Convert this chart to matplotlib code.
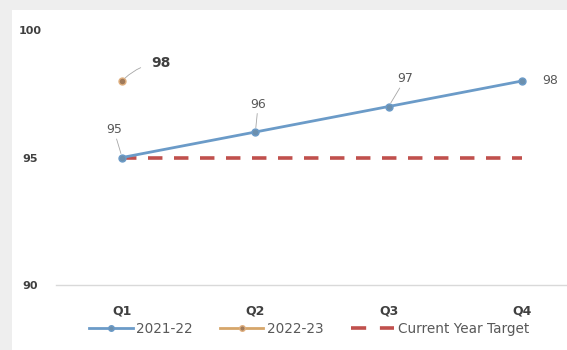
import matplotlib
matplotlib.use("Agg")
import matplotlib.pyplot as plt
from matplotlib.lines import Line2D
from matplotlib.patches import Rectangle

categories = ["Q1", "Q2", "Q3", "Q4"]
series_2122 = [95, 96, 97, 98]
series_2223 = [98]
target = [95, 95, 95, 95]
yticks = [90, 95, 100]

fig = plt.figure(figsize=(5.67, 3.5), dpi=100)
fig.patch.set_facecolor("#eeeeee")
bg = Rectangle((12/567, 0), 1, 1 - 10/350, transform=fig.transFigure,
               facecolor="white", edgecolor="none", zorder=-10)
fig.add_artist(bg)

ax = fig.add_axes([55.5/567, (350-285)/350, (567-55.5)/567, (285-30)/350])
ax.set_zorder(5)
ax.set_facecolor("none")
x = list(range(len(categories)))

ax.plot(x, target, color="#c0504d", lw=2.6, dashes=(4, 3.2), zorder=2)
ax.plot(x, series_2122, color="#6b9bc8", lw=2, marker="o", ms=5,
        markerfacecolor="#6b8fae", markeredgecolor="#6b9bc8", zorder=3)
ax.plot(x[:len(series_2223)], series_2223, color="#d6a66a", lw=2, marker="o", ms=5,
        markerfacecolor="#a07a5a", markeredgecolor="#e0b080", zorder=3)

ax.set_xlim(-0.5, (567-122)/133.3)
ax.set_ylim(90, 100)
ax.set_yticks(yticks)
ax.set_yticklabels([str(v) for v in yticks], fontsize=8, fontweight="bold", color="#404040")
ax.set_xticks(x)
ax.set_xticklabels(categories, fontsize=9, fontweight="bold", color="#404040")
ax.tick_params(axis="both", length=0)
ax.tick_params(axis="y", pad=18)
ax.tick_params(axis="x", pad=14)
for lab in ax.get_yticklabels():
    lab.set_horizontalalignment("center")
for s in ["top", "right", "left"]:
    ax.spines[s].set_visible(False)
ax.spines["bottom"].set_color("#d9d9d9")
ax.spines["bottom"].set_linewidth(1)

# data labels for 2021-22
offsets = [(-6, 20), (2, 20), (12, 20), (20, 0)]
for xi, yi, (dx, dy) in zip(x, series_2122, offsets):
    ax.annotate(str(yi), (xi, yi), xytext=(dx, dy), textcoords="offset points",
                ha="center", va="center", fontsize=9, color="#595959",
                arrowprops=dict(arrowstyle="-", color="#a6a6a6", lw=0.6,
                                shrinkA=0, shrinkB=3) if xi < 3 else None)
ax.annotate(str(series_2223[0]), (0, series_2223[0]), xytext=(28, 13),
            textcoords="offset points", ha="center", va="center", fontsize=10,
            fontweight="bold", color="#404040",
            arrowprops=dict(arrowstyle="-", color="#a6a6a6", lw=0.6,
                            shrinkA=6, shrinkB=3, connectionstyle="arc3,rad=0.2"))

handles = [
    Line2D([], [], color="#6b9bc8", lw=2, marker="o", ms=4,
           markerfacecolor="#6b8fae", markeredgecolor="#6b9bc8"),
    Line2D([], [], color="#d6a66a", lw=2, marker="o", ms=4,
           markerfacecolor="#a07a5a", markeredgecolor="#e0b080"),
    Line2D([], [], color="#c0504d", lw=2.6, dashes=(4.2, 3.8)),
]
fig.legend(handles, ["2021-22", "2022-23", "Current Year Target"],
           loc="center", bbox_to_anchor=(309/567, 1 - 329/350), ncol=3,
           frameon=False, fontsize=9.8, handlelength=3.2, columnspacing=2.0,
           handletextpad=0.25, labelcolor="#595959")

fig.savefig("out.png", dpi=100, facecolor=fig.get_facecolor())
